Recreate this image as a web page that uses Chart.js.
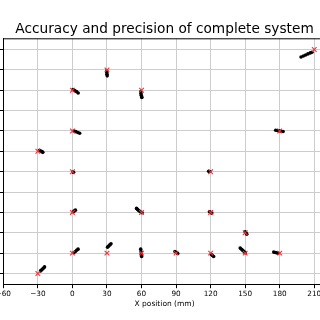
<!DOCTYPE html>
<html>
<head>
<meta charset="utf-8">
<script src="https://cdn.jsdelivr.net/npm/chart.js@4/dist/chart.umd.min.js"></script>
<style>
  html, body { margin: 0; padding: 0; width: 320px; height: 320px; overflow: hidden; background: #fff; }
  #chart { position: absolute; left: -50px; top: 0; }
</style>
</head>
<body>
<canvas id="chart" width="400" height="320"></canvas>
<script>
'use strict'
// posiciones objetivo (mm)
const targetX = [-30, 0, 30, 60, 90, 120, 150, 180, 150, 0, 60, 120, 0, 120, -30, 0, 180, 0, 60, 30, 210]
const targetY = [-30, 0, 0, 0, 0, 0, 0, 0, 30, 60, 60, 60, 120, 120, 150, 180, 180, 240, 240, 270, 300]
// posiciones medidas (mm)
const measuredX = [
    -27.7, -26.8, -25.9, -25.0, -24.2,
    1.4, 2.6, 3.7, 4.9,
    30.5, 31.5, 32.5, 33.5,
    59.3, 59.5, 59.8, 60.1,
    89.0, 90.3, 91.5,
    120.6, 121.6, 122.6,
    145.7, 146.8, 147.9, 149.0, 150.0,
    174.8, 176.0, 177.3, 178.5,
    150.0, 150.7, 151.4,
    119.0, 120.0, 121.0,
    55.7, 56.5, 57.3, 58.6, 60.5,
    0.8, 1.7, 2.6,
    118.3, 119.2,
    0.5, 1.0,
    -28.6, -27.5, -26.4, -25.7,
    1.4, 3.0, 4.7, 6.3,
    176.5, 178.0, 179.5, 181.2, 182.9,
    0.5, 2.0, 3.5, 5.0,
    59.3, 59.5, 59.8, 60.1, 60.3,
    29.8, 29.9, 30.0, 30.2,
    198.5, 200.5, 202.5, 204.5, 206.5, 208.0
]
const measuredY = [
    -26.2, -24.8, -23.3, -21.8, -20.3,
    0.9, 2.5, 4.2, 5.9,
    8.8, 10.4, 12.1, 13.7,
    5.9, 2.5, -1.2, -5.0,
    2.5, 1.0, -0.5,
    -1.9, -3.4, -4.9,
    7.4, 5.7, 4.0, 2.3, 0.6,
    1.5, 1.0, 0.5, 0.0,
    31.5, 30.0, 28.0,
    61.0, 60.0, 59.0,
    65.9, 64.5, 63.0, 61.5, 59.5,
    61.0, 62.2, 63.3,
    120.5, 120.2,
    119.5, 119.0,
    151.5, 150.5, 149.5, 148.5,
    180.0, 179.0, 177.8, 176.6,
    181.0, 180.6, 180.2, 179.6, 179.1,
    241.0, 239.5, 238.0, 236.0,
    237.5, 235.0, 232.5, 230.0, 229.3,
    268.5, 266.0, 263.5, 261.2,
    289.0, 290.5, 292.0, 293.5, 295.0, 296.0
]
// ticks de los ejes
const xTicks = [-60, -30, 0, 30, 60, 90, 120, 150, 180, 210]
const yTicks = [-30, 0, 30, 60, 90, 120, 150, 180, 210, 240, 270, 300]

const font = 'DejaVu Sans'
const gridColor = '#cdcdcd'

// linea superior del marco
const frame = {
    id: 'frame',
    afterDatasetsDraw(chart) {
        const { ctx, chartArea } = chart
        ctx.save()
        ctx.strokeStyle = '#000'
        ctx.lineWidth = 1
        ctx.beginPath()
        ctx.moveTo(chartArea.left, chartArea.top + 0.5)
        ctx.lineTo(chartArea.right, chartArea.top + 0.5)
        ctx.stroke()
        ctx.restore()
    }
}

const ctx = document.getElementById('chart').getContext('2d')
const myChart = new Chart(ctx, {
    type: 'scatter',
    data: {
        datasets: [{
            label: 'Target',
            data: targetX.map((x, i) => ({ x: x, y: targetY[i] })),
            pointStyle: 'crossRot',
            pointRadius: 3.3,
            borderColor: '#f0303a',
            backgroundColor: '#f0303a',
            borderWidth: 1.1
        }, {
            label: 'Measured',
            data: measuredX.map((x, i) => ({ x: x, y: measuredY[i] })),
            pointStyle: 'circle',
            pointRadius: 1.8,
            borderWidth: 0,
            backgroundColor: '#000',
            borderColor: '#000'
        }]
    },
    options: {
        responsive: false,
        animation: false,
        devicePixelRatio: 1,
        layout: { padding: { left: 0, right: 24.2, top: 0, bottom: 0 } },
        plugins: {
            legend: { display: false },
            tooltip: { enabled: false },
            title: {
                display: true,
                text: 'Accuracy and precision of complete system',
                fullSize: false,
                color: '#000',
                font: { family: font, size: 13.7, weight: 'normal', lineHeight: 1.2 },
                padding: { top: 21.5, bottom: 0.36 }
            }
        },
        scales: {
            x: {
                type: 'linear',
                min: -60,
                max: 220,
                afterBuildTicks: scale => { scale.ticks = xTicks.map(v => ({ value: v })) },
                afterFit: scale => { scale.height = 35.3 },
                ticks: {
                    color: '#000',
                    padding: 1.5,
                    maxRotation: 0,
                    font: { family: font, size: 7.3 },
                    callback: v => String(v).replace('-', '\u2212')
                },
                grid: { color: gridColor, lineWidth: 1, tickColor: '#000', tickLength: 3.5 },
                border: { color: '#000', width: 1 },
                title: {
                    display: true,
                    text: 'X position (mm)',
                    color: '#000',
                    font: { family: font, size: 7.5 },
                    padding: { top: 0, bottom: 11.5 }
                }
            },
            y: {
                type: 'linear',
                min: -46.5,
                max: 316.5,
                afterBuildTicks: scale => { scale.ticks = yTicks.map(v => ({ value: v })) },
                afterFit: scale => { scale.width = 53.3 },
                ticks: {
                    color: '#000',
                    padding: 1.5,
                    font: { family: font, size: 7.3 },
                    callback: v => String(v).replace('-', '\u2212')
                },
                grid: { color: gridColor, lineWidth: 1, tickColor: '#000', tickLength: 3.5 },
                border: { color: '#000', width: 1 },
                title: {
                    display: true,
                    text: 'Y position (mm)',
                    color: '#000',
                    font: { family: font, size: 7.5 }
                }
            }
        }
    },
    plugins: [frame]
})
</script>
</body>
</html>
